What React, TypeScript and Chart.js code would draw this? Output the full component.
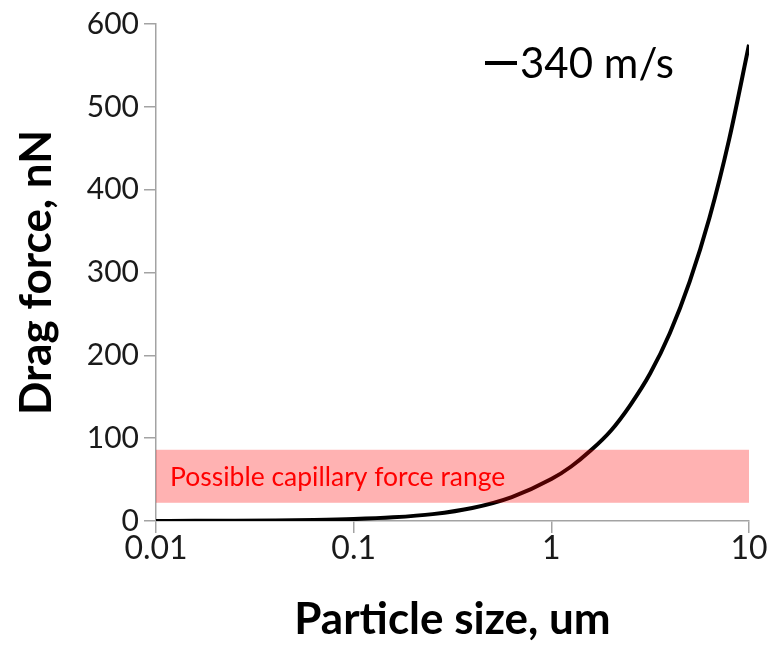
import React, { useEffect, useRef } from "react";
import { Chart, registerables } from "chart.js";

Chart.register(...registerables);

// Drag force on a particle at 340 m/s versus particle diameter (um -> nN)
const particleSize = [
  0.01, 0.0158, 0.0251, 0.0398, 0.0631, 0.1, 0.158, 0.251, 0.398, 0.631,
  1.0, 1.26, 1.58, 2.0, 2.51, 3.16, 3.98, 5.01, 6.31, 7.94, 10,
];
const dragForce = [
  0.1, 0.18, 0.33, 0.63, 1.2, 2.3, 4.4, 8.3, 15.7, 28.9,
  50.6, 65.8, 85, 109, 140, 178, 227, 289, 366, 461, 575,
];
const seriesLabel = "340 m/s";

// Axis ticks
const xTickValues = [0.01, 0.1, 1, 10];
const yMin = 0;
const yMax = 600;
const yStep = 100;

// Shaded band of possible capillary force values (nN)
const capillaryRange = [22, 86];
const capillaryLabel = "Possible capillary force range";

const FONT = "Lato, 'Open Sans', sans-serif";
const AXIS_GREY = "#a3a3a3";

export default function App() {
  const canvasRef = useRef<HTMLCanvasElement>(null);

  useEffect(() => {
    const canvas = canvasRef.current;
    if (!canvas) return;

    const bandPlugin = {
      id: "capillaryBand",
      afterDatasetsDraw(chart: any) {
        const { ctx, chartArea, scales } = chart;
        const top = scales.y.getPixelForValue(capillaryRange[1]);
        const bottom = scales.y.getPixelForValue(capillaryRange[0]);
        ctx.save();
        ctx.fillStyle = "rgba(255, 0, 0, 0.3)";
        ctx.fillRect(chartArea.left, top, chartArea.right - chartArea.left, bottom - top);
        ctx.fillStyle = "#ff0000";
        ctx.font = `26.5px ${FONT}`;
        ctx.textBaseline = "middle";
        ctx.textAlign = "left";
        ctx.fillText(capillaryLabel, chartArea.left + 14, (top + bottom) / 2 + 1);
        ctx.restore();
      },
    };

    const legendPlugin = {
      id: "inlineLegend",
      afterDraw(chart: any) {
        const { ctx, chartArea } = chart;
        const ds = chart.data.datasets[0];
        const x0 = chartArea.left + 329;
        const y0 = chartArea.top + 40;
        ctx.save();
        ctx.strokeStyle = ds.borderColor;
        ctx.lineWidth = 4;
        ctx.beginPath();
        ctx.moveTo(x0, y0 - 1);
        ctx.lineTo(x0 + 32, y0 - 1);
        ctx.stroke();
        ctx.fillStyle = "#000";
        ctx.font = `42px ${FONT}`;
        ctx.textBaseline = "middle";
        ctx.textAlign = "left";
        ctx.fillText(ds.label, x0 + 35, y0);
        ctx.restore();
      },
    };

    const chart = new Chart(canvas, {
      type: "line",
      data: {
        datasets: [
          {
            label: seriesLabel,
            data: particleSize.map((s, i) => ({ x: s, y: dragForce[i] })),
            borderColor: "#000000",
            backgroundColor: "#000000",
            borderWidth: 4,
            pointRadius: 0,
            cubicInterpolationMode: "monotone",
            fill: false,
          },
        ],
      },
      options: {
        animation: false,
        responsive: true,
        maintainAspectRatio: false,
        layout: { padding: { left: 0, right: 22, top: 24, bottom: 0 } },
        plugins: {
          legend: { display: false },
          tooltip: { enabled: false },
        },
        scales: {
          x: {
            type: "logarithmic",
            min: 0.01,
            max: 10,
            afterBuildTicks(scale: any) {
              scale.ticks = xTickValues.map((v) => ({ value: v, major: true }));
            },
            afterFit(scale: any) {
              scale.height = 125;
            },
            ticks: {
              callback: (v: any) => String(v),
              color: "#1a1a1a",
              font: { family: FONT, size: 32, lineHeight: 1 },
              padding: 0,
              maxRotation: 0,
              autoSkip: false,
            },
            grid: {
              display: true,
              drawOnChartArea: false,
              drawTicks: true,
              tickLength: 12,
              color: AXIS_GREY,
              lineWidth: 1.5,
            },
            border: { color: AXIS_GREY, width: 1.5 },
            title: {
              display: true,
              text: "Particle size, um",
              color: "#000",
              font: { family: FONT, size: 44, weight: "bold", lineHeight: 1.2 },
              padding: { top: 0, bottom: 0 },
            },
          },
          y: {
            type: "linear",
            min: yMin,
            max: yMax,
            afterFit(scale: any) {
              scale.width = 156;
            },
            ticks: {
              stepSize: yStep,
              color: "#1a1a1a",
              font: { family: FONT, size: 30, lineHeight: 1 },
              padding: 5,
            },
            grid: {
              display: true,
              drawOnChartArea: false,
              drawTicks: true,
              tickLength: 12,
              color: AXIS_GREY,
              lineWidth: 1.5,
            },
            border: { color: AXIS_GREY, width: 1.5 },
            title: {
              display: true,
              text: "Drag force, nN",
              color: "#000",
              font: { family: FONT, size: 44, weight: "bold", lineHeight: 1.2 },
              padding: { top: 10, bottom: 0 },
            },
          },
        },
      },
      plugins: [bandPlugin, legendPlugin],
    });

    return () => chart.destroy();
  }, []);

  return (
    <div style={{ position: "fixed", left: 0, top: 0, width: 771, height: 646, background: "#fff" }}>
      <canvas ref={canvasRef} />
    </div>
  );
}
